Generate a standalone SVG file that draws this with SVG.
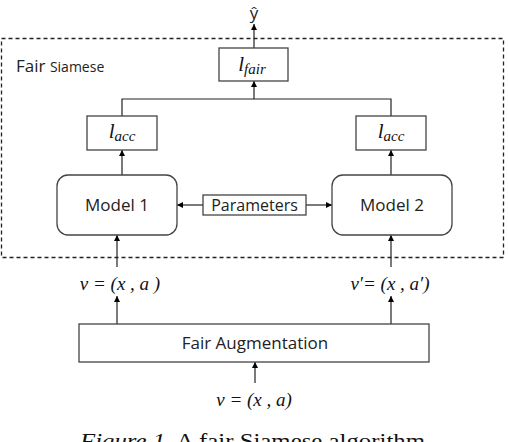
<svg xmlns="http://www.w3.org/2000/svg" width="508" height="442" viewBox="0 0 508 442">
<defs>
<marker id="ah" viewBox="0 0 6 6" refX="6" refY="3" markerWidth="6" markerHeight="6" markerUnits="userSpaceOnUse" orient="auto">
<path d="M0,0 L6,3 L0,6 z" fill="#000"/>
</marker>
<style>
.box{fill:#fff;stroke:#444;stroke-width:1.3}
.ln{fill:none;stroke:#222;stroke-width:1.2}
.arr{fill:none;stroke:#222;stroke-width:1.2;marker-end:url(#ah)}
.lbl{font-family:"Open Sans","Noto Sans",sans-serif;fill:#222;text-anchor:middle}
.math{font-family:"Liberation Serif","DejaVu Serif",serif;font-style:italic;fill:#111;text-anchor:middle}
</style>
</defs>
<rect width="508" height="442" fill="#fff"/>
<g id="siamese-frame">
<rect x="1.5" y="38.5" width="502" height="219" fill="none" stroke="#222" stroke-width="1.3" stroke-dasharray="4,3"/>
<text x="16" y="72" font-family="Open Sans,Noto Sans,sans-serif" fill="#222" font-size="17">Fair <tspan font-size="14">Siamese</tspan></text>
</g>
<g id="connectors">
<line class="arr" x1="254" y1="48" x2="254" y2="24"/>
<polyline class="ln" points="122,116 122,99 391,99 391,116"/>
<line class="arr" x1="254" y1="99" x2="254" y2="81"/>
<line class="arr" x1="122" y1="175" x2="122" y2="150"/>
<line class="arr" x1="391" y1="175" x2="391" y2="150"/>
<line class="arr" x1="203" y1="205" x2="177" y2="205"/>
<line class="arr" x1="306" y1="205" x2="332" y2="205"/>
<line class="arr" x1="117" y1="267" x2="117" y2="235"/>
<line class="arr" x1="391" y1="267" x2="391" y2="235"/>
<line class="arr" x1="117" y1="324" x2="117" y2="296"/>
<line class="arr" x1="391" y1="324" x2="391" y2="296"/>
<line class="arr" x1="255" y1="383" x2="255" y2="362"/>
</g>
<g id="y-hat"><text class="lbl" x="254" y="19" font-size="17">ŷ</text></g>
<g id="l-fair">
<rect class="box" x="219" y="48" width="69" height="33"/>
<text class="math" x="252" y="71" font-size="21">l<tspan font-size="15" dy="3">fair</tspan></text>
</g>
<g id="l-acc-1">
<rect class="box" x="87" y="116" width="70" height="34"/>
<text class="math" x="122" y="138" font-size="21">l<tspan font-size="15" dy="3">acc</tspan></text>
</g>
<g id="l-acc-2">
<rect class="box" x="356" y="116" width="70" height="34"/>
<text class="math" x="391" y="138" font-size="21">l<tspan font-size="15" dy="3">acc</tspan></text>
</g>
<g id="model-1">
<rect class="box" x="57" y="175" width="120" height="60" rx="11"/>
<text class="lbl" x="117" y="211" font-size="17">Model 1</text>
</g>
<g id="parameters">
<rect class="box" x="203" y="195" width="103" height="20"/>
<text class="lbl" x="254.5" y="211" font-size="16">Parameters</text>
</g>
<g id="model-2">
<rect class="box" x="332" y="175" width="120" height="60" rx="11"/>
<text class="lbl" x="392" y="211" font-size="17">Model 2</text>
</g>
<g id="v-left"><text class="math" x="120" y="290" font-size="19">v = (x , a )</text></g>
<g id="v-right"><text class="math" x="390" y="290" font-size="19">v′= (x , a′)</text></g>
<g id="fair-augmentation">
<rect class="box" x="79" y="324" width="350" height="38"/>
<text class="lbl" x="255" y="349" font-size="17">Fair Augmentation</text>
</g>
<g id="v-input"><text class="math" x="254" y="406" font-size="19">v = (x , a)</text></g>
<g id="caption">
<text x="80" y="448" font-family="Liberation Serif,serif" font-size="21" fill="#111" textLength="345" lengthAdjust="spacingAndGlyphs"><tspan font-style="italic">Figure 1.</tspan> A fair Siamese algorithm</text>
</g>
</svg>
